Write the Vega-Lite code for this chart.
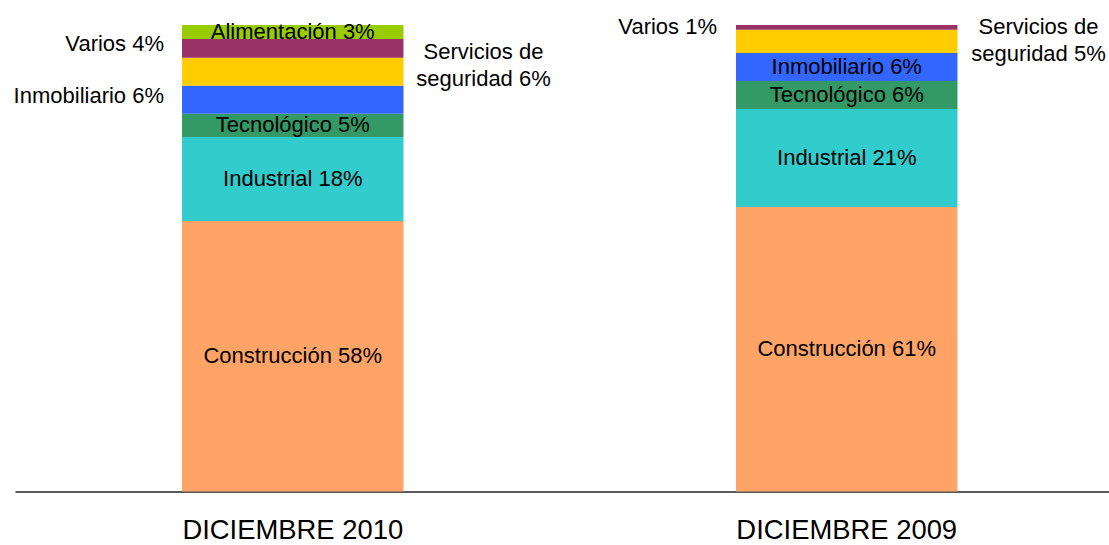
{
  "$schema": "https://vega.github.io/schema/vega-lite/v6.json",
  "autosize": {"type": "none"},
  "width": 1094,
  "height": 466.5,
  "padding": {"left": 15, "top": 25, "right": 0, "bottom": 53.5},
  "background": "white",
  "config": {"view": {"stroke": null}, "font": "Liberation Sans"},
  "data": {
    "values": [
      {"period": "DICIEMBRE 2010", "sector": "Construcción", "order": 1, "value": 58, "label": "Construcción 58%", "pos": "inside"},
      {"period": "DICIEMBRE 2010", "sector": "Industrial", "order": 2, "value": 18, "label": "Industrial 18%", "pos": "inside"},
      {"period": "DICIEMBRE 2010", "sector": "Tecnológico", "order": 3, "value": 5, "label": "Tecnológico 5%", "pos": "inside"},
      {"period": "DICIEMBRE 2010", "sector": "Inmobiliario", "order": 4, "value": 6, "label": "Inmobiliario 6%", "pos": "left"},
      {"period": "DICIEMBRE 2010", "sector": "Servicios de seguridad", "order": 5, "value": 6, "label": "Servicios de\nseguridad 6%", "pos": "right"},
      {"period": "DICIEMBRE 2010", "sector": "Varios", "order": 6, "value": 4, "label": "Varios 4%", "pos": "left"},
      {"period": "DICIEMBRE 2010", "sector": "Alimentación", "order": 7, "value": 3, "label": "Alimentación 3%", "pos": "inside"},
      {"period": "DICIEMBRE 2009", "sector": "Construcción", "order": 1, "value": 61, "label": "Construcción 61%", "pos": "inside"},
      {"period": "DICIEMBRE 2009", "sector": "Industrial", "order": 2, "value": 21, "label": "Industrial 21%", "pos": "inside"},
      {"period": "DICIEMBRE 2009", "sector": "Tecnológico", "order": 3, "value": 6, "label": "Tecnológico 6%", "pos": "inside"},
      {"period": "DICIEMBRE 2009", "sector": "Inmobiliario", "order": 4, "value": 6, "label": "Inmobiliario 6%", "pos": "inside"},
      {"period": "DICIEMBRE 2009", "sector": "Servicios de seguridad", "order": 5, "value": 5, "label": "Servicios de\nseguridad 5%", "pos": "right"},
      {"period": "DICIEMBRE 2009", "sector": "Varios", "order": 6, "value": 1, "label": "Varios 1%", "pos": "left"}
    ]
  },
  "transform": [
    {"stack": "value", "groupby": ["period"], "sort": [{"field": "order", "order": "ascending"}], "as": ["y0", "y1"]},
    {"calculate": "(datum.y0 + datum.y1) / 2", "as": "mid"}
  ],
  "encoding": {
    "x": {
      "field": "period",
      "type": "nominal",
      "sort": ["DICIEMBRE 2010", "DICIEMBRE 2009"],
      "scale": {"paddingInner": 0.6002, "paddingOuter": 0.2875, "align": 0.5243},
      "axis": {
        "title": null,
        "labelAngle": 0,
        "labelFontSize": 27.4,
        "labelLimit": 0,
        "labelColor": "#000000",
        "labelFont": "Liberation Sans",
        "labelBaseline": "alphabetic",
        "labelPadding": 47,
        "ticks": false,
        "tickSize": 0,
        "domainColor": "#222222",
        "domainWidth": 1.5,
        "grid": false
      }
    }
  },
  "layer": [
    {
      "mark": {"type": "bar"},
      "encoding": {
        "y": {"field": "y0", "type": "quantitative", "scale": {"domain": [0, 100], "nice": false}, "axis": null},
        "y2": {"field": "y1"},
        "color": {
          "field": "sector",
          "type": "nominal",
          "legend": null,
          "scale": {
            "domain": ["Construcción", "Industrial", "Tecnológico", "Inmobiliario", "Servicios de seguridad", "Varios", "Alimentación"],
            "range": ["#FFA366", "#33CCCC", "#339966", "#3366FF", "#FFCC00", "#993366", "#99CC00"]
          }
        }
      }
    },
    {
      "transform": [{"filter": "datum.pos === 'inside'"}],
      "mark": {"type": "text", "fontSize": 22, "font": "Liberation Sans", "color": "#000000", "align": "center", "baseline": "middle"},
      "encoding": {
        "y": {"field": "mid", "type": "quantitative"},
        "text": {"field": "label"}
      }
    },
    {
      "transform": [{"filter": "datum.pos === 'left' && datum.period === 'DICIEMBRE 2010'"}],
      "mark": {"type": "text", "fontSize": 22, "font": "Liberation Sans", "color": "#000000", "align": "right", "baseline": "middle", "dx": -18, "dy": -4},
      "encoding": {
        "x": {"field": "period", "type": "nominal", "sort": ["DICIEMBRE 2010", "DICIEMBRE 2009"], "bandPosition": 0},
        "y": {"field": "mid", "type": "quantitative"},
        "text": {"field": "label"}
      }
    },
    {
      "transform": [{"filter": "datum.pos === 'left' && datum.period === 'DICIEMBRE 2009'"}],
      "mark": {"type": "text", "fontSize": 22, "font": "Liberation Sans", "color": "#000000", "align": "right", "baseline": "middle", "dx": -19, "dy": 0},
      "encoding": {
        "x": {"field": "period", "type": "nominal", "sort": ["DICIEMBRE 2010", "DICIEMBRE 2009"], "bandPosition": 0},
        "y": {"field": "mid", "type": "quantitative"},
        "text": {"field": "label"}
      }
    },
    {
      "transform": [{"filter": "datum.pos === 'right' && datum.period === 'DICIEMBRE 2010'"}],
      "mark": {"type": "text", "fontSize": 22, "font": "Liberation Sans", "color": "#000000", "align": "center", "baseline": "middle", "dx": 80, "dy": -20, "lineBreak": "\n", "lineHeight": 27},
      "encoding": {
        "x": {"field": "period", "type": "nominal", "sort": ["DICIEMBRE 2010", "DICIEMBRE 2009"], "bandPosition": 1},
        "y": {"field": "mid", "type": "quantitative"},
        "text": {"field": "label"}
      }
    },
    {
      "transform": [{"filter": "datum.pos === 'right' && datum.period === 'DICIEMBRE 2009'"}],
      "mark": {"type": "text", "fontSize": 22, "font": "Liberation Sans", "color": "#000000", "align": "center", "baseline": "middle", "dx": 81, "dy": -14, "lineBreak": "\n", "lineHeight": 27},
      "encoding": {
        "x": {"field": "period", "type": "nominal", "sort": ["DICIEMBRE 2010", "DICIEMBRE 2009"], "bandPosition": 1},
        "y": {"field": "mid", "type": "quantitative"},
        "text": {"field": "label"}
      }
    }
  ]
}
